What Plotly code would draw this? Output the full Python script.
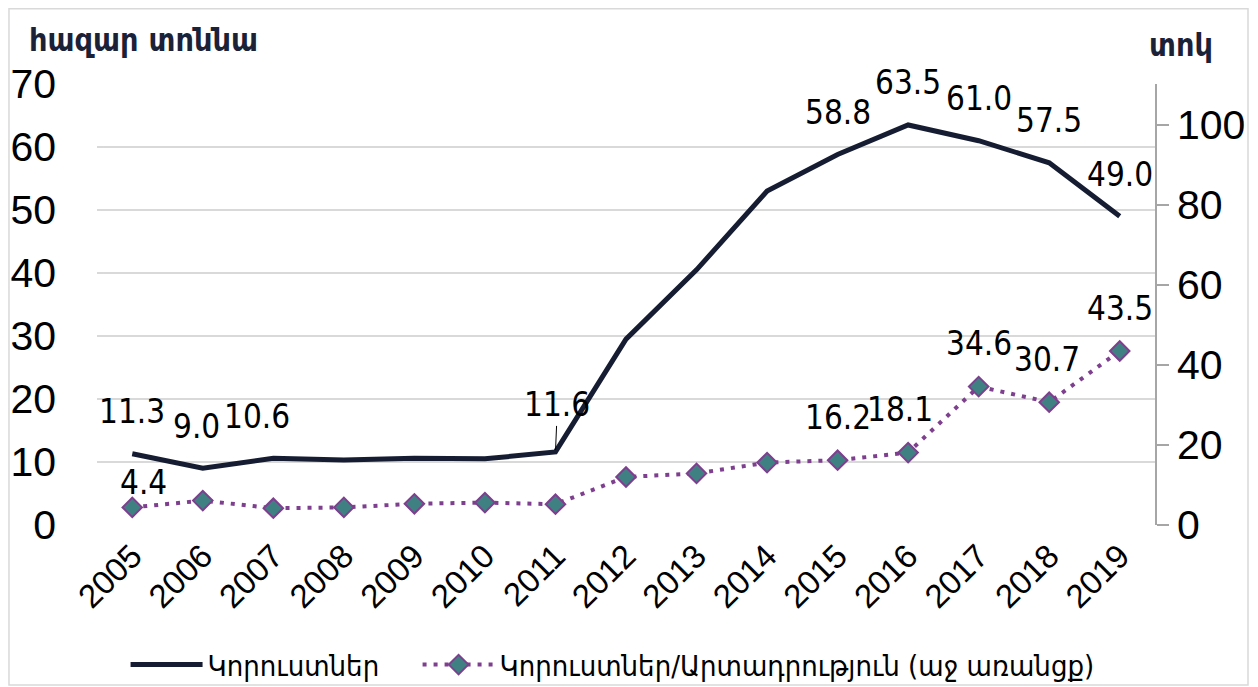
import plotly.graph_objects as go

years = [2005, 2006, 2007, 2008, 2009, 2010, 2011, 2012,
         2013, 2014, 2015, 2016, 2017, 2018, 2019]
losses = [11.3, 9.0, 10.6, 10.3, 10.6, 10.5, 11.6, 29.5, 40.5, 53.0, 58.8, 63.5, 61.0, 57.5, 49.0]
ratio = [4.4, 6.1, 4.2, 4.4, 5.3, 5.6, 5.2, 12.0, 12.9, 15.6, 16.2, 18.1, 34.6, 30.7, 43.5]
loss_labelled = [2005, 2006, 2007, 2011, 2015, 2016, 2017, 2018, 2019]
ratio_labelled = [2005, 2015, 2016, 2017, 2018, 2019]

left_title = "հազար տոննա"
right_title = "տոկ"
name_loss = "Կորուստներ"
name_ratio = "Կորուստներ/Արտադրություն (աջ առանցք)"

NAVY = "#161D33"
PURPLE = "#7E3F8E"
TEAL = "#3F8082"
GRID = "#D9D9D9"
LABEL_FONT = dict(family="DejaVu Sans Condensed, sans-serif", size=33, color="#000000")
TICK_FONT = dict(family="Liberation Sans, sans-serif", size=41, color="#000000")
ARM_FONT = "DejaVu Sans Condensed, DejaVu Sans, sans-serif"
LEG_FONT = dict(family=ARM_FONT, size=29, color="#000000")

fig = go.Figure()
fig.add_trace(go.Scatter(
    x=years, y=losses, name=name_loss, mode="lines",
    line=dict(color=NAVY, width=5), yaxis="y", legend="legend"))
fig.add_trace(go.Scatter(
    x=years, y=ratio, name=name_ratio, mode="lines+markers",
    line=dict(color=PURPLE, width=4, dash="4px,7px"),
    marker=dict(symbol="diamond", size=15, color=TEAL, line=dict(color=PURPLE, width=2)),
    yaxis="y2", legend="legend2"))

# label offsets (style only)
loss_xshift = {2006: -6, 2007: -16}
ratio_xshift = {2005: 11, 2016: -8, 2018: -2}

annotations = []
for yr, v in zip(years, losses):
    if yr in loss_labelled:
        if yr == 2011:
            annotations.append(dict(x=yr, y=v, xref="x", yref="y", text=f"{v:.1f}",
                                    showarrow=True, ax=2, ay=-47, arrowhead=0, arrowwidth=1,
                                    arrowcolor="#000000", standoff=2, font=LABEL_FONT))
        else:
            annotations.append(dict(x=yr, y=v, xref="x", yref="y", text=f"{v:.1f}",
                                    showarrow=False, yshift=42, xshift=loss_xshift.get(yr, 0),
                                    font=LABEL_FONT))
for yr, v in zip(years, ratio):
    if yr in ratio_labelled:
        ys = 25 if yr == 2005 else 43
        annotations.append(dict(x=yr, y=v, xref="x", yref="y2", text=f"{v:.1f}",
                                showarrow=False, yshift=ys, xshift=ratio_xshift.get(yr, 0),
                                font=LABEL_FONT))

annotations.append(dict(x=-0.066, y=1.0, xref="paper", yref="paper", yshift=44,
                        text=f"<b>{left_title}</b>", showarrow=False, xanchor="left",
                        yanchor="middle", font=dict(family=ARM_FONT, size=32, color="#1B2238")))
annotations.append(dict(x=1.0246, y=1.0, xref="paper", yref="paper", yshift=39,
                        text=f"<b>{right_title}</b>", showarrow=False, xanchor="center",
                        yanchor="middle", font=dict(family=ARM_FONT, size=32, color="#1B2238")))

fig.update_layout(
    width=1258, height=687,
    margin=dict(l=89, r=111, t=76, b=170),
    paper_bgcolor="white", plot_bgcolor="white",
    showlegend=True,
    legend=dict(orientation="h", x=0.027, y=0.044, xref="paper", yref="container",
                xanchor="left", yanchor="middle", font=LEG_FONT,
                bgcolor="rgba(0,0,0,0)", itemwidth=72),
    legend2=dict(orientation="h", x=0.303, y=0.044, xref="paper", yref="container",
                 xanchor="left", yanchor="middle", font=LEG_FONT,
                 bgcolor="rgba(0,0,0,0)", itemwidth=72),
    xaxis=dict(range=[2004.5, 2019.5], tickvals=years, tickangle=-45, automargin=False,
               tickfont=dict(family="Liberation Sans, sans-serif", size=33, color="#000000"),
               showgrid=False, zeroline=False, showline=False, ticks="", ticklabelstandoff=4),
    yaxis=dict(range=[0, 70], dtick=10, tickfont=TICK_FONT, showgrid=True, gridcolor=GRID,
               gridwidth=1.5, zeroline=False, showline=False, ticks="", ticklabelstandoff=40,
               automargin=False),
    yaxis2=dict(range=[0, 110.25], tickvals=[0, 20, 40, 60, 80, 100], overlaying="y", side="right",
                tickfont=TICK_FONT, showgrid=False, zeroline=False, showline=True,
                linecolor="#A6A6A6", linewidth=1.5, ticks="outside", ticklen=12,
                tickcolor="#A6A6A6", tickwidth=1.5, ticklabelstandoff=0, automargin=False),
    annotations=annotations,
    shapes=[dict(type="rect", xref="paper", yref="paper", x0=-0.0832, x1=1.0879,
                 y0=-0.3628, y1=1.1706, line=dict(color="#D9D9D9", width=1.5),
                 fillcolor="rgba(0,0,0,0)", layer="below")],
)

fig.write_html("out.html")
